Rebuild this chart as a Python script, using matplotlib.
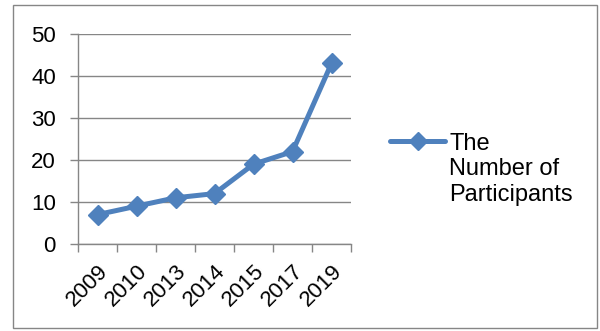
import numpy as np
import matplotlib
matplotlib.use("Agg")
import matplotlib.pyplot as plt
from matplotlib.lines import Line2D
from matplotlib.patches import Rectangle

# data
years = ["2009", "2010", "2013", "2014", "2015", "2017", "2019"]
participants = [7, 9, 11, 12, 19, 22, 43]
series_label = "The\nNumber of\nParticipants"

plt.rcParams["font.family"] = ["Liberation Sans", "DejaVu Sans"]
blue = "#4F81BD"
grey = "#868686"

fig = plt.figure(figsize=(6.0, 3.31), dpi=100)
ax = fig.add_axes([78 / 600, 1 - 244 / 331, (351 - 78) / 600, (244 - 34) / 331])

x = np.arange(len(years))
ax.plot(x, participants, color=blue, lw=3.6, marker="D", ms=10.5,
        markerfacecolor=blue, markeredgecolor=blue, solid_joinstyle="round",
        solid_capstyle="round", zorder=3, clip_on=False)

ax.set_xlim(-0.5, len(years) - 0.5)
ax.set_ylim(0, 50)
ax.set_yticks(range(0, 51, 10))
ax.yaxis.grid(True, color=grey, lw=1.0)
ax.set_axisbelow(True)

# category ticks sit between categories, labels sit on the category centres
ax.set_xticks(x)
ax.set_xticklabels(years, rotation=45, ha="right", va="top",
                   rotation_mode="anchor")
ax.set_xticks(np.arange(-0.5, len(years)), minor=True)
ax.tick_params(axis="x", which="major", length=0, pad=12, labelsize=16)
ax.tick_params(axis="x", which="minor", length=6, color=grey, width=1)
ax.tick_params(axis="y", length=6, color=grey, width=1, pad=10, labelsize=16)

for side in ("top", "right"):
    ax.spines[side].set_visible(False)
for side in ("left", "bottom"):
    ax.spines[side].set_color(grey)
    ax.spines[side].set_linewidth(1)

# legend drawn by hand so the key lines up with the first text line
ky = 1 - 141 / 331
fig.add_artist(Line2D([390 / 600, 445 / 600], [ky, ky], color=blue, lw=3.6,
                      solid_capstyle="round", transform=fig.transFigure))
fig.add_artist(Line2D([417.5 / 600], [ky], color=blue, marker="D", ms=9,
                      transform=fig.transFigure))
fig.text(449 / 600, 1 - 133 / 331, series_label, fontsize=17, ha="left",
         va="top", linespacing=1.2)

# outer chart border
fig.add_artist(Rectangle((13 / 600, 1 - 328 / 331), (597 - 13) / 600,
                         (328 - 5) / 331, transform=fig.transFigure,
                         fill=False, edgecolor=grey, lw=1.0))

fig.savefig("out.png", dpi=100)
